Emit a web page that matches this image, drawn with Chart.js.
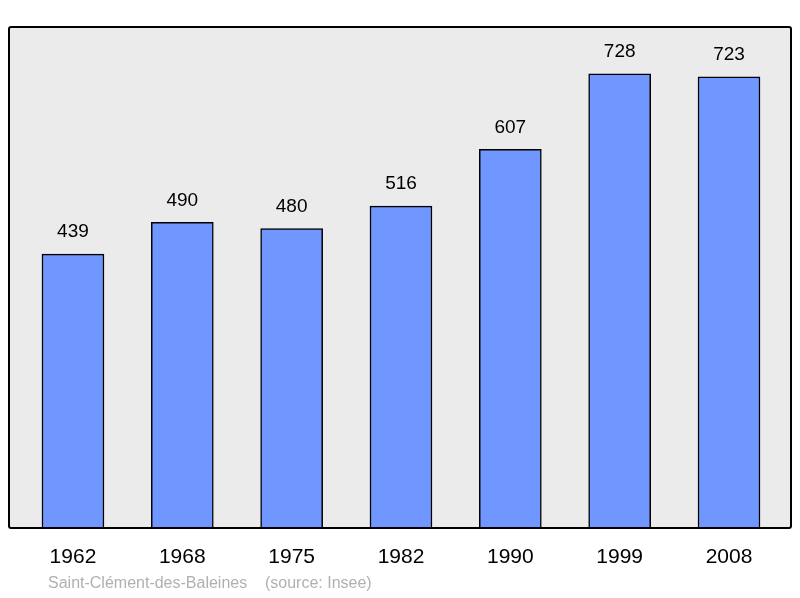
<!DOCTYPE html>
<html><head><meta charset="utf-8">
<script src="https://cdn.jsdelivr.net/npm/chart.js@4/dist/chart.umd.min.js"></script>
<style>html,body{margin:0;padding:0;background:#fff}#w{width:800px;height:598px}</style>
</head><body><div id="w"><canvas id="c"></canvas></div>
<script>
const years = ["1962","1968","1975","1982","1990","1999","2008"];
const population = [439,490,480,516,607,728,723];
const sourceText = "Saint-Clément-des-Baleines    (source: Insee)";

const deco = {
  id:'deco',
  beforeDraw(ch){
    const {ctx, chartArea:a} = ch;
    ctx.save();
    ctx.fillStyle='#ebebeb';
    ctx.fillRect(a.left,a.top,a.right-a.left,a.bottom-a.top);
    ctx.restore();
  },
  afterDraw(ch){
    const {ctx, chartArea:a} = ch;
    const x = ch.scales.x, y = ch.scales.y;
    ctx.save();
    ctx.strokeStyle='#000'; ctx.lineWidth=2;
    ctx.beginPath(); ctx.roundRect(a.left,a.top,a.right-a.left,a.bottom-a.top,2); ctx.stroke();
    ctx.fillStyle='#000'; ctx.textAlign='center'; ctx.textBaseline='middle';
    ctx.font='21px "Liberation Sans", Arial, sans-serif';
    years.forEach((t,i)=>ctx.fillText(t, x.getPixelForValue(i), 557));
    ctx.font='19px "Liberation Sans", Arial, sans-serif';
    population.forEach((v,i)=>ctx.fillText(String(v), x.getPixelForValue(i), y.getPixelForValue(v)-22));
    ctx.fillStyle='#b0b0b0'; ctx.textAlign='left';
    ctx.font='16px "Liberation Sans", Arial, sans-serif';
    ctx.fillText(sourceText, 48, 584);
    ctx.restore();
  }
};

new Chart(document.getElementById('c'),{
  type:'bar',
  data:{datasets:[{data:population.map((v,i)=>({x:i,y:v})),backgroundColor:'#7096ff',borderColor:'#000',borderWidth:1.5,barThickness:62}]},
  options:{
    responsive:true, maintainAspectRatio:false, animation:false, devicePixelRatio:1,
    layout:{padding:{left:9,right:9,top:27,bottom:70}},
    plugins:{legend:{display:false},tooltip:{enabled:false}},
    scales:{
      x:{type:'linear',offset:false,min:-0.585,max:6.567,display:false},
      y:{min:0,max:803,display:false}
    }
  },
  plugins:[deco]
});
</script></body></html>
